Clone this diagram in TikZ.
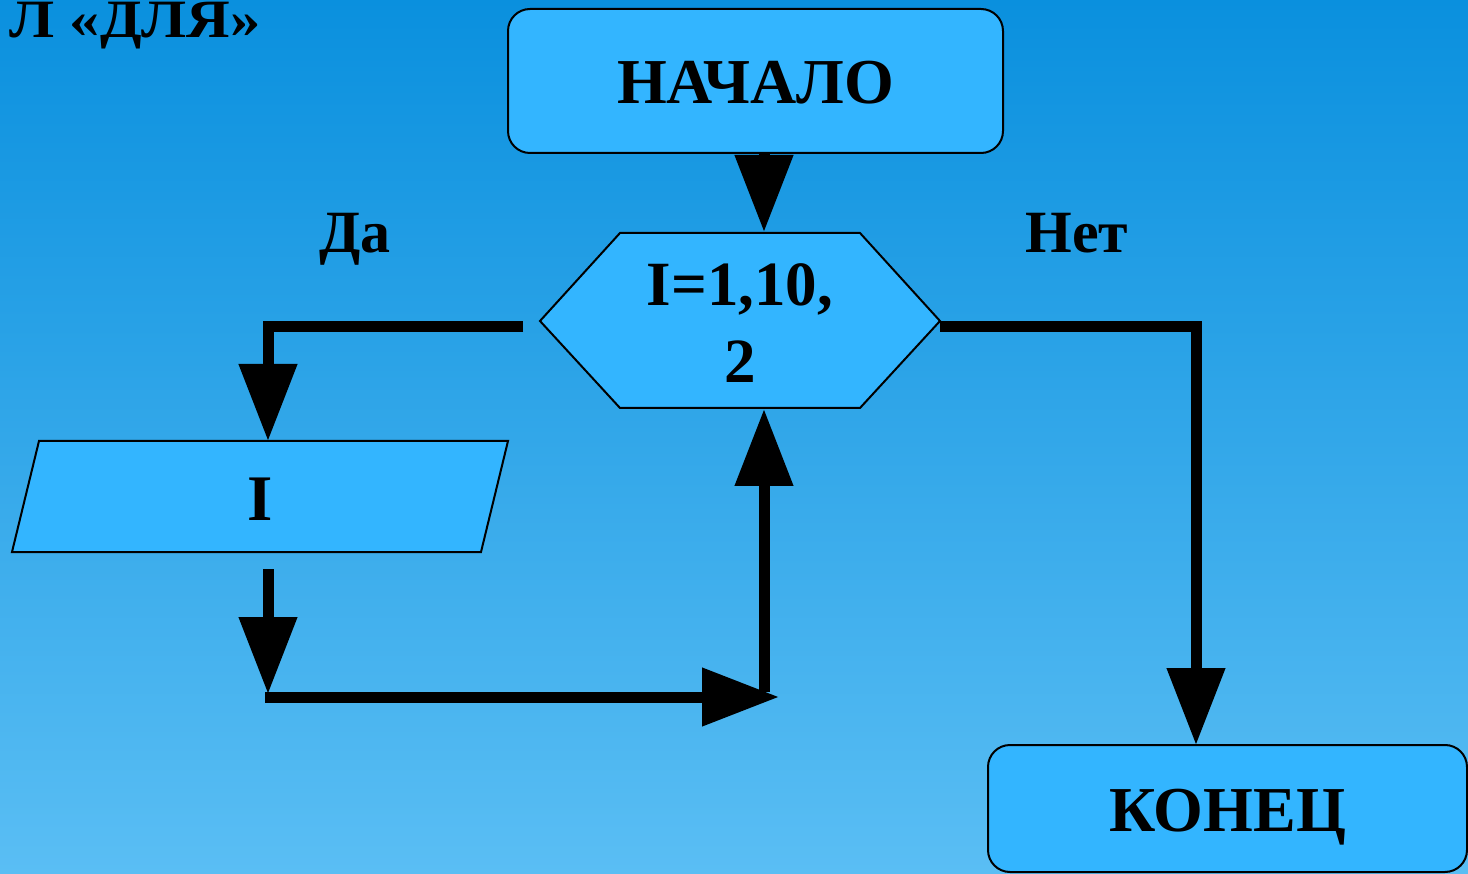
\documentclass[tikz,border=0pt]{standalone}
\usepackage{fontspec}
\setmainfont{Liberation Serif}
\usetikzlibrary{arrows.meta,calc}

\definecolor{bgtop}{HTML}{0A90DE}
\definecolor{bgbot}{HTML}{5ABEF4}
\definecolor{boxblue}{HTML}{33B5FF}

\begin{document}
\begin{tikzpicture}[x=1pt,y=-1pt,
  flow/.style={line width=11pt,-{Triangle[length=77pt,width=56pt]}},
  termbox/.style={draw=black,line width=2pt,fill=boxblue,rounded corners=22pt,
    text height=45pt,text depth=0pt,inner sep=0pt,
    font=\bfseries\fontsize{64}{70}\selectfont},
  shapeline/.style={draw=black,line width=2pt,fill=boxblue},
  bigtxt/.style={inner sep=0pt,font=\bfseries\fontsize{63}{70}\selectfont},
  sidetxt/.style={inner sep=0pt,font=\bfseries\fontsize{60}{66}\selectfont}]

\useasboundingbox (0,0) rectangle (1468,874);
\clip (0,0) rectangle (1468,874);

% background
\shade[top color=bgtop,bottom color=bgbot] (0,0) rectangle (1468,874);

% heading, running off the left edge
\node[anchor=base east,inner sep=0pt,xscale=1.12,
  font=\bfseries\fontsize{54}{60}\selectfont]
  (title) at (261,38) {Л «ДЛЯ»};

% start and end terminals
\node[termbox,minimum width=495pt,minimum height=144pt] (start) at (755.5,81) {НАЧАЛО};
\node[termbox,minimum width=479pt,minimum height=127pt] (finish) at (1227.5,808.5) {КОНЕЦ};

% loop header (hexagon)
\draw[shapeline] (540,321) -- (620,233) -- (860,233) -- (940,321)
  -- (860,408) -- (620,408) -- cycle;
\node[bigtxt,anchor=base] (hexA) at (740,306) {I=1,10,};
\node[bigtxt,anchor=base] (hexB) at (740,383) {2};

% loop body (parallelogram)
\draw[shapeline] (39,441) -- (508,441) -- (481,552) -- (12,552) -- cycle;
\node[inner sep=0pt,anchor=base,font=\bfseries\fontsize{65}{70}\selectfont]
  (body) at (260,520) {I};

% branch labels
\node[sidetxt,anchor=base] (yes) at (355,253) {Да};
\node[sidetxt,anchor=base] (no) at (1077,253) {Нет};

% connector end points
\coordinate (hexTop) at (764,232);
\coordinate (hexBot) at (764,409);
\coordinate (daFrom) at (523,327);
\coordinate (netFrom) at (940,327);
\coordinate (inTop) at (268,441);
\coordinate (inBot) at (268,569);
\coordinate (loopCorner) at (268,694);
\coordinate (loopStart) at (265,697);
\coordinate (loopEnd) at (779,697);
\coordinate (loopUp) at (764,692);
\coordinate (endTop) at (1196,745);

% connectors
\draw[flow] (start.south -| hexTop) -- (hexTop);
\draw[flow] (daFrom) -| (inTop);
\draw[flow] (inBot) -- (loopCorner);
\draw[flow] (loopStart) -- (loopEnd);
\draw[flow] (loopUp) -- (hexBot);
\draw[flow] (netFrom) -| (endTop);

\end{tikzpicture}
\end{document}
